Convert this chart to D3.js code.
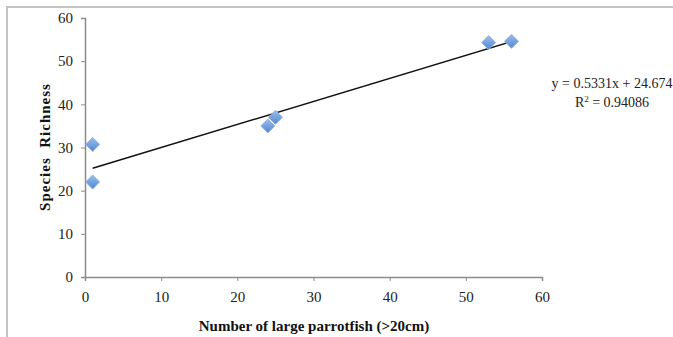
<!DOCTYPE html>
<html><head><meta charset="utf-8">
<script src="https://cdn.jsdelivr.net/npm/d3@7"></script>
<style>body{margin:0;background:#fff;}svg{display:block;}</style>
</head><body>
<script>
const xValues = [1, 1, 24, 25, 53, 56];
const yValues = [30.7, 22, 35, 37, 54.3, 54.6];
const xTicks = [0, 10, 20, 30, 40, 50, 60];
const yTicks = [0, 10, 20, 30, 40, 50, 60];
const slope = 0.5331, intercept = 24.674;
const eqLabel = "y = 0.5331x + 24.674";
const r2Value = "0.94086";
const xTitle = "Number of large parrotfish (>20cm)";
const yTitle = "Species  Richness";

const W = 673, H = 337;
const svg = d3.select("body").append("svg").attr("width", W).attr("height", H);
const font = "'Liberation Serif', 'DejaVu Serif', serif";

// outer frame (top + left visible)
svg.append("path").attr("d", `M7,${H} L7,7 L${W},7`).attr("fill","none").attr("stroke","#c4c4c4").attr("stroke-width",2);

const x = d3.scaleLinear().domain([0,60]).range([85,542]);
const y = d3.scaleLinear().domain([0,60]).range([277,18]);

const xAxis = svg.append("g").attr("transform","translate(0,277)")
  .call(d3.axisBottom(x).tickValues(xTicks).tickSize(4).tickPadding(10));
const yAxis = svg.append("g").attr("transform","translate(85,0)")
  .call(d3.axisLeft(y).tickValues(yTicks).tickSize(4).tickPadding(8));
[xAxis, yAxis].forEach(g => {
  g.select(".domain").attr("stroke","#8c8c8c").attr("stroke-width",1.5);
  g.selectAll(".tick line").attr("stroke","#8c8c8c");
  g.selectAll("text").attr("font-family",font).attr("font-size",15).attr("fill","#222");
});

// trendline
const xr = d3.extent(xValues);
svg.append("line")
  .attr("x1", x(xr[0])).attr("y1", y(slope*xr[0]+intercept))
  .attr("x2", x(xr[1])).attr("y2", y(slope*xr[1]+intercept))
  .attr("stroke","#111").attr("stroke-width",1.5);

// markers
const defs = svg.append("defs");
const gr = defs.append("linearGradient").attr("id","mg").attr("x1","0").attr("y1","0").attr("x2","0").attr("y2","1");
gr.append("stop").attr("offset","0").attr("stop-color","#9cc0ec");
gr.append("stop").attr("offset","1").attr("stop-color","#4f86cf");
const r = 7;
svg.append("g").selectAll("path").data(xValues.map((d,i)=>[d,yValues[i]])).join("path")
  .attr("d", d => { const cx=x(d[0]), cy=y(d[1]); return `M${cx},${cy-r}L${cx+r},${cy}L${cx},${cy+r}L${cx-r},${cy}Z`; })
  .attr("fill","url(#mg)").attr("stroke","#8fb4e3").attr("stroke-width",1);

// equation
svg.append("text").attr("x",612).attr("y",88).attr("text-anchor","middle")
  .attr("font-family",font).attr("font-size",14).attr("fill","#222").text(eqLabel);
const r2 = svg.append("text").attr("x",612).attr("y",107).attr("text-anchor","middle")
  .attr("font-family",font).attr("font-size",14).attr("fill","#222");
r2.append("tspan").text("R");
r2.append("tspan").attr("dy",-5).attr("font-size",9).text("2");
r2.append("tspan").attr("dy",5).text(" = " + r2Value);

// axis titles
svg.append("text").attr("x",314).attr("y",331).attr("text-anchor","middle")
  .attr("font-family",font).attr("font-size",15).attr("font-weight","bold").attr("fill","#111").text(xTitle);
svg.append("text").attr("transform","translate(50,147) rotate(-90)").attr("text-anchor","middle")
  .attr("font-family",font).attr("font-size",15).attr("font-weight","bold").attr("fill","#111")
  .attr("letter-spacing",1).style("white-space","pre").text(yTitle);
</script>
</body></html>
